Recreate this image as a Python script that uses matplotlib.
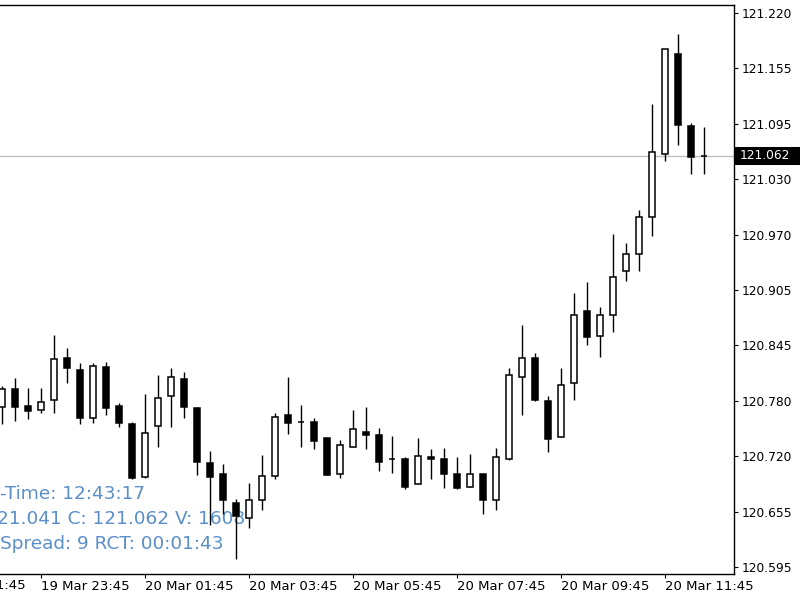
import matplotlib
matplotlib.use('Agg')
import matplotlib.pyplot as plt
import matplotlib.transforms as mtransforms
from matplotlib.patches import Rectangle
import numpy as np
import pandas as pd

# ---- data (M15 candles, 19 Mar 23:00 .. 20 Mar 12:30) ----
start_time = "2024-03-19 23:00"
opens = [120.778, 120.798, 120.779, 120.774, 120.785, 120.833, 120.819, 120.765, 120.823, 120.779,
         120.758, 120.698, 120.756, 120.790, 120.809, 120.776, 120.714, 120.702, 120.669, 120.652,
         120.672, 120.699, 120.768, 120.761, 120.761, 120.742, 120.702, 120.732, 120.749, 120.746,
         120.719, 120.719, 120.690, 120.721, 120.719, 120.702, 120.687, 120.702, 120.672, 120.719,
         120.811, 120.833, 120.784, 120.744, 120.805, 120.886, 120.858, 120.882, 120.931, 120.951,
         120.992, 121.064, 121.177, 121.095, 121.061]
highs = [120.801, 120.810, 120.799, 120.799, 120.859, 120.844, 120.827, 120.827, 120.828, 120.782,
         120.761, 120.792, 120.814, 120.822, 120.817, 120.778, 120.728, 120.713, 120.673, 120.692,
         120.723, 120.771, 120.811, 120.780, 120.765, 120.742, 120.740, 120.774, 120.777, 120.754,
         120.745, 120.721, 120.742, 120.730, 120.731, 120.721, 120.724, 120.702, 120.731, 120.822,
         120.870, 120.839, 120.790, 120.822, 120.906, 120.919, 120.891, 120.973, 120.963, 121.000,
         121.120, 121.182, 121.199, 121.099, 121.094]
lows = [120.758, 120.762, 120.764, 120.771, 120.771, 120.805, 120.758, 120.759, 120.768, 120.755,
        120.696, 120.697, 120.732, 120.755, 120.765, 120.701, 120.644, 120.656, 120.606, 120.641,
        120.661, 120.696, 120.747, 120.732, 120.730, 120.701, 120.697, 120.732, 120.730, 120.705,
        120.703, 120.685, 120.690, 120.696, 120.686, 120.685, 120.687, 120.657, 120.661, 120.718,
        120.768, 120.784, 120.727, 120.744, 120.785, 120.848, 120.834, 120.862, 120.920, 120.931,
        120.971, 121.056, 121.074, 121.041, 121.041]
closes = [120.798, 120.778, 120.773, 120.783, 120.832, 120.822, 120.765, 120.824, 120.776, 120.759,
          120.697, 120.748, 120.788, 120.811, 120.778, 120.715, 120.698, 120.672, 120.654, 120.672,
          120.699, 120.766, 120.759, 120.761, 120.739, 120.701, 120.735, 120.753, 120.746, 120.715,
          120.719, 120.687, 120.722, 120.719, 120.702, 120.686, 120.702, 120.672, 120.721, 120.814,
          120.833, 120.785, 120.741, 120.802, 120.882, 120.857, 120.882, 120.925, 120.951, 120.992,
          121.066, 121.182, 121.097, 121.060, 121.062]

current_price = 121.062
y_tick_labels = ['120.595', '120.655', '120.720', '120.780', '120.845', '120.905',
                 '120.970', '121.030', '121.095', '121.155', '121.220']
y_tick_lo, y_tick_hi = 120.5965, 121.2232
info_lines = ["-Time: 12:43:17", "21.041 C: 121.062 V: 1608", "Spread: 9 RCT: 00:01:43"]
info_color = '#5b8fc9'

# ---- figure ----
W, H = 800, 600
fig = plt.figure(figsize=(W / 100, H / 100), dpi=100)
fig.patch.set_facecolor('white')
ax = fig.add_axes([0, 1 - 574 / H, 734 / W, (574 - 5) / H])
ax.set_facecolor('white')

n = len(opens)
idx = np.arange(n)
o = np.array(opens); c = np.array(closes)
hi = np.array(highs); lo = np.array(lows)
bull = c >= o

ax.axhline(current_price, color='#c0c0c0', lw=1.0, zorder=0.5)
ax.vlines(idx, lo, hi, color='black', lw=1.0, zorder=2)
ax.bar(idx, np.abs(c - o), bottom=np.minimum(o, c), width=0.52,
       color=np.where(bull, 'white', 'black'), edgecolor='black', linewidth=1.1, zorder=3)

ax.set_xlim(-2 / 13, 732 / 13)
ax.set_ylim(120.5886, 121.2323)

# y axis on right
ax.yaxis.tick_right()
ax.set_yticks(np.linspace(y_tick_lo, y_tick_hi, len(y_tick_labels)))
ax.set_yticklabels(y_tick_labels)
ax.tick_params(axis='y', direction='out', length=3, width=0.8, pad=2.2,
               labelsize=8.8, colors='black')

# x axis: ticks every 2h at :45
times = pd.date_range(start_time, periods=n, freq='15min')
tick_idx = [i for i, t in enumerate(times) if t.minute == 45 and t.hour % 2 == 1]
ax.set_xticks(tick_idx)
ax.set_xticklabels([times[i].strftime('%d %b %H:%M') for i in tick_idx])
ax.tick_params(axis='x', direction='out', length=3, width=0.8, pad=1.5, labelsize=9.5)
for lab in ax.get_xticklabels():
    lab.set_ha('left')

# label partly cut at the left edge (two hours before the first visible tick)
prev_i = tick_idx[0] - 8
prev_t = times[0] + pd.Timedelta(minutes=15 * prev_i)
ax.text(prev_i, -0.0088, prev_t.strftime('%d %b %H:%M'),
        transform=mtransforms.blended_transform_factory(ax.transData, ax.transAxes),
        ha='left', va='top', fontsize=9.5, clip_on=False)

ax.spines['left'].set_visible(False)
for s in ['top', 'right', 'bottom']:
    ax.spines[s].set_color('black')
    ax.spines[s].set_linewidth(1.0)

# info text
for k, (line, xoff) in enumerate(zip(info_lines, [0.5, -3, 0])):
    ax.text(xoff / W, 1 - (494 + 25 * k) / H, line, transform=fig.transFigure,
            color=info_color, fontsize=13.3, ha='left', va='center', zorder=1,
            family='DejaVu Sans')

# current price label box
fig.canvas.draw()
y_disp = ax.transData.transform((0, current_price))[1]
y_fig = y_disp / H
fig.patches.append(Rectangle((735 / W, y_fig - 9 / H), 65 / W, 18 / H,
                             transform=fig.transFigure, facecolor='black',
                             edgecolor='none', zorder=5))
fig.text(740 / W, y_fig, f'{current_price:.3f}', color='white', fontsize=8.8,
         ha='left', va='center', zorder=6)

fig.savefig('out.png', dpi=100, facecolor='white')
